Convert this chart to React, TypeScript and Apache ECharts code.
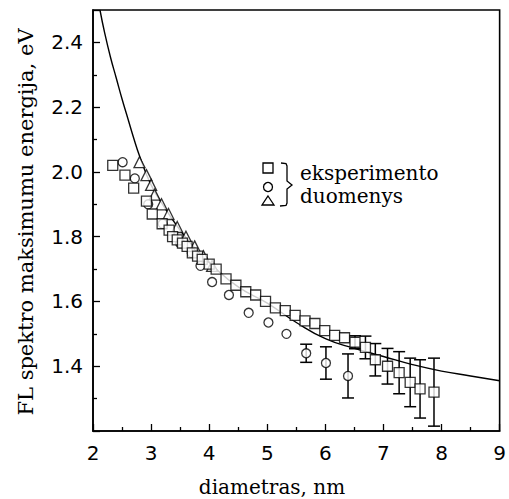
import React, { useEffect, useRef } from "react";
import * as echarts from "echarts";

// Fitted theoretical curve
const curveD = [2.12, 2.2, 2.3, 2.4, 2.5, 2.6, 2.7, 2.8, 3.0, 3.25, 3.5, 3.75, 4.0, 4.5, 5.0, 5.5, 6.0, 6.5, 7.0, 7.5, 8.0, 8.5, 9.0];
const curveE = [2.5, 2.43, 2.355, 2.29, 2.225, 2.165, 2.105, 2.05, 1.96, 1.885, 1.82, 1.765, 1.72, 1.645, 1.595, 1.535, 1.485, 1.455, 1.43, 1.405, 1.385, 1.37, 1.355];

// Squares
const squareD = [2.34, 2.55, 2.7, 2.92, 3.02, 3.19, 3.31, 3.37, 3.45, 3.54, 3.62, 3.71, 3.8, 3.88, 4.0, 4.12, 4.29, 4.46, 4.63, 4.8, 4.97, 5.14, 5.31, 5.48, 5.65, 5.82, 5.99, 6.16, 6.33, 6.51, 6.69, 6.86, 7.07, 7.27, 7.46, 7.63, 7.87];
const squareE = [2.02, 1.99, 1.95, 1.91, 1.87, 1.84, 1.82, 1.8, 1.79, 1.78, 1.77, 1.75, 1.74, 1.73, 1.715, 1.7, 1.67, 1.65, 1.63, 1.62, 1.6, 1.58, 1.572, 1.557, 1.54, 1.532, 1.51, 1.495, 1.488, 1.474, 1.458, 1.42, 1.4, 1.38, 1.35, 1.33, 1.32];
const squareErr = [0, 0, 0, 0, 0, 0, 0, 0, 0, 0, 0, 0, 0, 0, 0, 0, 0, 0, 0, 0, 0, 0, 0, 0, 0, 0, 0, 0, 0, 0.02, 0.035, 0.05, 0.055, 0.065, 0.075, 0.09, 0.105];

// Circles
const circleD = [2.51, 2.72, 2.95, 3.2, 3.5, 3.7, 3.85, 4.05, 4.34, 4.68, 5.02, 5.33, 5.67, 6.01, 6.39];
const circleE = [2.03, 1.98, 1.9, 1.84, 1.78, 1.75, 1.71, 1.66, 1.62, 1.565, 1.535, 1.5, 1.44, 1.41, 1.37];
const circleErr = [0, 0, 0, 0, 0, 0, 0, 0, 0, 0, 0, 0, 0.028, 0.05, 0.068];

// Triangles
const triangleD = [2.8, 2.92, 3.0, 3.06, 3.18, 3.3, 3.45, 3.6, 3.75, 3.9, 4.05];
const triangleE = [2.03, 1.99, 1.96, 1.93, 1.9, 1.87, 1.83, 1.8, 1.77, 1.74, 1.71];

// Axis ticks
const xTicks = [2, 3, 4, 5, 6, 7, 8, 9];
const yTicks = ["1.4", "1.6", "1.8", "2.0", "2.2", "2.4"];

const xTitle = "diametras, nm";
const yTitle = "FL spektro maksimumu energija, eV";
const legendLines = ["eksperimento", "duomenys"];

const SERIF = "DejaVu Serif";
const SANS = "DejaVu Sans";

export default function App() {
  const ref = useRef<HTMLDivElement>(null);
  useEffect(() => {
    if (!ref.current) return;
    const chart = echarts.init(ref.current, null, { renderer: "svg" });
    const zip = (a: number[], b: number[]) => a.map((v, i) => [v, b[i]]);
    const errData = [
      ...squareD.map((d, i) => [d, squareE[i], squareErr[i]]).filter((r) => r[2] > 0),
      ...circleD.map((d, i) => [d, circleE[i], circleErr[i]]).filter((r) => r[2] > 0),
    ];
    const markerStyle = { color: "#ffffff", borderColor: "#000", borderWidth: 1.3 };
    const option: any = {
      animation: false,
      grid: { left: 93, right: 6, top: 10, bottom: 68, show: true, borderColor: "#000", borderWidth: 1.6, backgroundColor: "transparent" },
      xAxis: {
        type: "value",
        min: 2,
        max: 9,
        interval: 1,
        axisLine: { show: true, lineStyle: { color: "#000", width: 1.6 } },
        axisTick: { show: true, inside: true, length: 7, lineStyle: { color: "#000", width: 1.3 } },
        minorTick: { show: true, splitNumber: 2, length: 4, lineStyle: { color: "#000", width: 1.3 } },
        splitLine: { show: false },
        axisLabel: {
          color: "#000",
          fontFamily: SANS,
          fontSize: 20,
          margin: 12,
          formatter: (v: number) => (xTicks.indexOf(Math.round(v)) >= 0 ? String(Math.round(v)) : ""),
        },
      },
      yAxis: {
        type: "value",
        min: 1.2,
        max: 2.5,
        interval: 0.2,
        axisLine: { show: true, lineStyle: { color: "#000", width: 1.6 } },
        axisTick: { show: true, inside: true, length: 7, lineStyle: { color: "#000", width: 1.3 } },
        minorTick: { show: true, splitNumber: 2, length: 4, lineStyle: { color: "#000", width: 1.3 } },
        splitLine: { show: false },
        axisLabel: {
          color: "#000",
          fontFamily: SANS,
          fontSize: 20,
          margin: 10,
          formatter: (v: number) => {
            const s = v.toFixed(1);
            return yTicks.indexOf(s) >= 0 ? s : "";
          },
        },
      },
      series: [
        {
          type: "line",
          data: zip(curveD, curveE),
          symbol: "none",
          smooth: true,
          lineStyle: { color: "#000", width: 1.4 },
          z: 2,
        },
        {
          type: "custom",
          data: errData,
          z: 3,
          renderItem: (params: any, api: any) => {
            const x = api.value(0);
            const y = api.value(1);
            const e = api.value(2);
            const top = api.coord([x, y + e]);
            const bot = api.coord([x, y - e]);
            const hw = 6;
            const st = { stroke: "#000", lineWidth: 1.5 };
            return {
              type: "group",
              children: [
                { type: "line", shape: { x1: top[0], y1: top[1], x2: bot[0], y2: bot[1] }, style: st },
                { type: "line", shape: { x1: top[0] - hw, y1: top[1], x2: top[0] + hw, y2: top[1] }, style: st },
                { type: "line", shape: { x1: bot[0] - hw, y1: bot[1], x2: bot[0] + hw, y2: bot[1] }, style: st },
              ],
            };
          },
        },
        { type: "scatter", data: zip(triangleD, triangleE), symbol: "triangle", symbolSize: 11, itemStyle: markerStyle, z: 4 },
        { type: "scatter", data: zip(circleD, circleE), symbol: "circle", symbolSize: 9, itemStyle: markerStyle, z: 5 },
        { type: "scatter", data: zip(squareD, squareE), symbol: "rect", symbolSize: 10, itemStyle: markerStyle, z: 6 },
      ],
      graphic: [
        {
          type: "text",
          x: 26,
          y: 222,
          rotation: Math.PI / 2,
          style: { text: yTitle, fontFamily: SERIF, fontSize: 21, fill: "#000", align: "center", verticalAlign: "middle" },
        },
        {
          type: "text",
          x: 272,
          y: 487,
          style: { text: xTitle, fontFamily: SERIF, fontSize: 20, fill: "#000", align: "center", verticalAlign: "middle" },
        },
        { type: "rect", shape: { x: 263, y: 163, width: 10, height: 10 }, style: { fill: "#fff", stroke: "#000", lineWidth: 1.3 } },
        { type: "circle", shape: { cx: 268, cy: 187, r: 4.5 }, style: { fill: "#fff", stroke: "#000", lineWidth: 1.3 } },
        { type: "polygon", shape: { points: [[268, 196], [274, 205], [262, 205]] }, style: { fill: "#fff", stroke: "#000", lineWidth: 1.3 } },
        {
          type: "polyline",
          shape: { points: [[281, 163], [286, 163.5], [287, 166], [287, 181], [292, 185], [287, 189], [287, 203], [286, 205.5], [280, 206]] },
          style: { stroke: "#000", lineWidth: 1.3, fill: "none" },
        },
        {
          type: "text",
          x: 300,
          y: 173,
          style: { text: legendLines[0], fontFamily: SERIF, fontSize: 20, fill: "#000", align: "left", verticalAlign: "middle" },
        },
        {
          type: "text",
          x: 300,
          y: 196,
          style: { text: legendLines[1], fontFamily: SERIF, fontSize: 20, fill: "#000", align: "left", verticalAlign: "middle" },
        },
      ],
    };
    chart.setOption(option);
    return () => chart.dispose();
  }, []);
  return <div ref={ref} style={{ position: "fixed", left: 0, top: 0, width: 509, height: 499, background: "#fff" }} />;
}
